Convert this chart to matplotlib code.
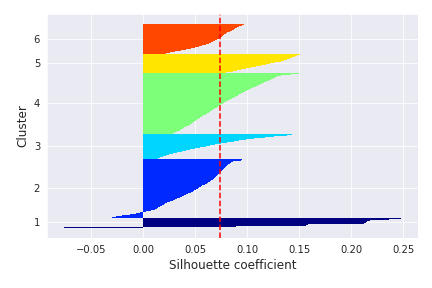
import numpy as np
import matplotlib
matplotlib.use('Agg')
import matplotlib.pyplot as plt
from matplotlib import cm
import seaborn as sns

# silhouette values per cluster, sorted ascending
cluster_labels = ['1', '2', '3', '4', '5', '6']

sil_c1 = [-0.076, 0.089, 0.156, 0.158, 0.212, 0.214, 0.215, 0.218, 0.236, 0.248]

sil_c2 = [-0.030, -0.026, -0.020, -0.013, -0.007, -0.003, 0.003, 0.008, 0.011, 0.013,
          0.014, 0.016, 0.018, 0.020, 0.021, 0.023, 0.026, 0.029, 0.031, 0.033,
          0.035, 0.037, 0.039, 0.041, 0.043, 0.046, 0.048, 0.049, 0.051, 0.053,
          0.054, 0.056, 0.057, 0.059, 0.061, 0.062, 0.064, 0.065, 0.067, 0.068,
          0.069, 0.070, 0.071, 0.072, 0.073, 0.074, 0.075, 0.076, 0.077, 0.078,
          0.079, 0.080, 0.081, 0.082, 0.083, 0.084, 0.086, 0.094, 0.095]

sil_c3 = [0.014, 0.016, 0.019, 0.022, 0.025, 0.029, 0.033, 0.037, 0.041, 0.045,
          0.050, 0.055, 0.060, 0.064, 0.069, 0.075, 0.081, 0.087, 0.092, 0.099,
          0.107, 0.117, 0.126, 0.138, 0.143]

sil_c4 = [0.029, 0.031, 0.033, 0.035, 0.036, 0.038, 0.039, 0.041, 0.042, 0.044,
          0.045, 0.047, 0.048, 0.049, 0.051, 0.052, 0.054, 0.055, 0.057, 0.058,
          0.060, 0.061, 0.063, 0.064, 0.066, 0.067, 0.069, 0.071, 0.072, 0.074,
          0.075, 0.077, 0.078, 0.080, 0.082, 0.083, 0.085, 0.087, 0.089, 0.091,
          0.092, 0.094, 0.096, 0.098, 0.100, 0.102, 0.104, 0.106, 0.108, 0.110,
          0.112, 0.114, 0.116, 0.118, 0.121, 0.123, 0.125, 0.127, 0.129, 0.132,
          0.142, 0.150]

sil_c5 = [0.080, 0.086, 0.090, 0.094, 0.099, 0.104, 0.108, 0.113, 0.118, 0.122,
          0.127, 0.132, 0.135, 0.138, 0.141, 0.143, 0.146, 0.148, 0.151]

sil_c6 = [0.022, 0.026, 0.031, 0.036, 0.041, 0.046, 0.050, 0.054, 0.057, 0.060,
          0.063, 0.065, 0.067, 0.069, 0.071, 0.073, 0.075, 0.076, 0.077, 0.078,
          0.080, 0.081, 0.083, 0.085, 0.087, 0.088, 0.090, 0.092, 0.095, 0.097]

silhouette_avg = 0.074

clusters = [sil_c1, sil_c2, sil_c3, sil_c4, sil_c5, sil_c6]
n_clusters = len(clusters)

sns.set_style('darkgrid')
fig = plt.figure(figsize=(6, 4), dpi=72)
fig.subplots_adjust(left=0.109, right=0.968, bottom=0.174, top=0.951)

y_ax_lower, y_ax_upper = 0, 0
yticks = []
for i, c_vals in enumerate(clusters):
    y_ax_upper += len(c_vals)
    color = cm.jet(float(i) / n_clusters)
    plt.barh(range(y_ax_lower, y_ax_upper), c_vals, height=1.0,
             edgecolor='none', linewidth=0, color=color)
    yticks.append((y_ax_lower + y_ax_upper) / 2.)
    y_ax_lower += len(c_vals)

plt.axvline(silhouette_avg, color='red', linestyle='--')
plt.yticks(yticks, cluster_labels)
plt.ylabel('Cluster', fontsize=12)
plt.xlabel('Silhouette coefficient', fontsize=12)
plt.tick_params(labelsize=10)
plt.savefig('out.png', dpi=72)
